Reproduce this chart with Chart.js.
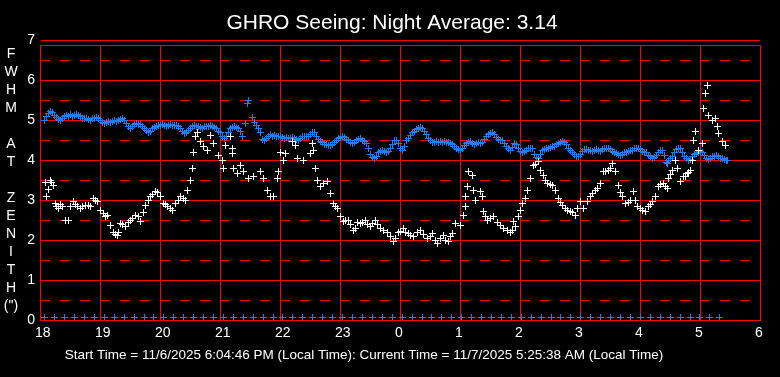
<!DOCTYPE html>
<html><head><meta charset="utf-8">
<script src="https://cdn.jsdelivr.net/npm/chart.js@4/dist/chart.umd.min.js"></script>
<style>html,body{margin:0;padding:0;background:#000;}#wrap{width:780px;height:377px;}canvas{display:block;}</style>
</head><body><div id="wrap"><canvas id="c" width="780" height="377"></canvas></div>
<script>
// x values are minutes elapsed since 18:00 local time
const titleText = 'GHRO Seeing: Night Average: 3.14';
const footerText = 'Start Time = 11/6/2025 6:04:46 PM (Local Time): Current Time = 11/7/2025 5:25:38 AM (Local Time)';
const yAxisLetters = ['F','W','H','M','','A','T','','Z','E','N','I','T','H','(")'];
const hourTicks = [0,60,120,180,240,300,360,420,480,540,600,660,720];
const hourLabels = ['18','19','20','21','22','23','0','1','2','3','4','5','6'];
const yTicks = [0,1,2,3,4,5,6,6.875,7];
const yHalfLines = [0.5,1.5,2.5,3.5,4.5,5.5,6.5];

const whiteMinutes = [5,6,8,10,13,15,18,22,25,28,33,37,40,45,50,53,57,60,63,67,70,73,77,80,85,90,95,100,105,108,115,120,123,127,132,135,140,145,147,150,152,153,155,157,160,163,167,170,173,178,182,183,185,190,192,192,193,197,200,203,208,213,220,223,227,230,233,237,238,240,243,245,252,255,257,263,270,272,273,275,277,280,283,287,290,293,297,300,303,308,313,320,325,330,335,340,347,353,358,363,368,373,380,387,392,397,403,408,412,415,420,423,425,425,427,428,432,433,435,440,442,443,447,453,460,467,472,473,478,482,487,490,493,498,500,503,507,512,515,518,522,525,530,535,540,543,547,552,555,560,563,568,572,575,578,582,585,590,593,597,600,605,608,612,615,618,623,627,628,632,635,637,640,643,647,650,652,653,655,658,662,663,665,667,668,672,675,677,678,682,685,
  11,16,20,30,35,42,48,55,65,75,78,82,88,92,98,103,110,112,117,125,130,138,143,
  295,305,310,315,317,322,327,332,337,343,350,355,360,365,370,377,383,390,395,400,405,410,445,450,457,463,470,475,480,485,495,505,510,520,527,532,537,550,557,565,570,580,588,595,602,610,620,625,630,645,648];
const whiteValues = [3.45,3.08,3.27,3.5,3.37,2.92,2.79,2.83,2.5,2.5,2.96,2.83,2.79,2.87,2.83,3.04,2.96,2.75,2.67,2.62,2.37,2.2,2.12,2.42,2.33,2.5,2.62,2.46,2.87,3.0,3.21,3.08,2.92,2.83,2.75,2.92,3.08,3.0,3.25,3.5,3.8,4.2,4.58,4.7,4.46,4.33,4.25,4.62,4.42,4.12,4.0,3.8,4.37,4.58,4.29,4.17,3.8,3.67,3.87,3.71,3.54,3.58,3.71,3.54,3.25,3.08,3.08,3.54,3.71,4.2,4.0,4.17,4.46,4.37,4.04,4.0,4.17,4.42,4.25,3.8,3.5,3.33,3.42,3.46,3.17,2.92,2.79,2.58,2.46,2.5,2.25,2.42,2.5,2.33,2.5,2.29,2.2,1.96,2.2,2.29,2.17,2.08,2.25,2.04,2.17,1.92,2.12,1.96,2.17,2.42,2.37,2.62,2.83,3.08,3.33,3.71,3.62,3.25,3.0,3.21,3.08,2.71,2.5,2.58,2.37,2.25,2.25,2.46,2.58,2.92,3.23,3.54,3.87,3.96,3.75,3.62,3.42,3.37,3.25,3.04,2.87,2.79,2.71,2.62,2.96,2.79,2.96,3.17,3.25,3.42,3.71,3.75,3.92,3.71,3.37,3.08,2.92,3.0,3.21,2.83,2.79,2.71,2.83,2.96,3.08,3.33,3.42,3.29,3.54,3.75,4.0,3.79,3.46,3.58,3.67,3.75,4.0,4.5,4.71,4.25,4.42,5.29,5.67,5.87,5.12,5.0,5.04,4.83,4.67,4.46,4.37,
  3.45,2.85,2.9,2.85,2.9,2.85,2.87,2.98,2.6,2.15,2.2,2.38,2.45,2.55,2.58,2.7,3.1,3.15,3.18,2.88,2.78,3.0,3.05,
  2.85,2.5,2.4,2.3,2.45,2.45,2.4,2.42,2.4,2.25,2.1,2.05,2.22,2.2,2.12,2.18,2.15,2.1,2.0,2.05,2.0,2.1,2.6,2.55,2.45,2.3,2.2,2.35,2.75,3.05,3.9,3.5,3.4,2.95,2.75,2.68,2.8,3.1,3.3,3.72,3.8,3.2,2.95,3.0,2.75,2.9,3.38,3.35,3.65,3.6,3.7];

const blueMinutes = [4,6,8,10,12,14,16,18,20,22,24,26,28,30,32,34,36,38,40,42,44,46,48,50,52,54,56,58,60,62,64,66,68,70,72,74,76,78,80,82,84,86,88,90,92,94,96,98,100,102,104,106,108,110,112,114,116,118,120,122,124,126,128,130,132,134,136,138,140,142,144,146,148,150,152,154,156,158,160,162,164,166,168,170,172,174,176,178,180,182,184,186,188,190,192,194,196,198,200,202,205,207,208,212,214,216,218,220,222,224,226,228,230,232,234,236,238,240,242,244,246,248,250,252,254,256,258,260,262,264,266,268,270,272,274,276,278,280,282,284,286,288,290,292,294,296,298,300,302,304,306,308,310,312,314,316,318,320,322,324,326,328,330,332,334,336,338,340,342,344,346,348,350,352,354,356,358,360,362,364,366,368,370,372,374,376,378,380,382,384,386,388,390,392,394,396,398,400,402,404,406,408,410,412,414,416,418,420,422,424,426,428,430,432,434,436,438,440,442,444,446,448,450,452,454,456,458,460,462,464,466,468,470,472,474,476,478,480,482,484,486,488,490,492,494,496,498,500,502,504,506,508,510,512,514,516,518,520,522,524,526,528,530,532,534,536,538,540,542,544,546,548,550,552,554,556,558,560,562,564,566,568,570,572,574,576,578,580,582,584,586,588,590,592,594,596,598,600,602,604,606,608,610,612,614,616,618,620,622,624,626,627,628,630,632,634,636,638,640,642,644,646,648,650,652,654,656,658,660,662,664,666,668,670,672,674,676,678,680,682,684,686,687];
const blueValues = [5.0,5.1,5.17,5.21,5.18,5.12,5.07,5.02,5.0,5.05,5.1,5.12,5.1,5.13,5.1,5.12,5.14,5.12,5.1,5.05,5.04,5.05,5.02,5.0,5.03,5.05,5.07,5.05,4.98,4.93,4.92,4.95,4.96,4.94,4.96,4.98,4.97,5.0,5.02,5.04,5.0,4.92,4.85,4.8,4.85,4.9,4.92,4.9,4.88,4.85,4.78,4.75,4.7,4.72,4.78,4.82,4.84,4.86,4.87,4.88,4.86,4.85,4.87,4.88,4.87,4.86,4.87,4.85,4.8,4.72,4.67,4.7,4.75,4.8,4.85,4.87,4.85,4.83,4.82,4.8,4.83,4.84,4.85,4.87,4.85,4.82,4.78,4.72,4.68,4.6,4.55,4.58,4.7,4.78,4.82,4.83,4.82,4.8,4.72,4.6,4.92,5.42,5.5,5.07,4.95,4.87,4.8,4.7,4.52,4.5,4.55,4.6,4.63,4.6,4.62,4.6,4.58,4.6,4.57,4.55,4.57,4.55,4.55,4.56,4.55,4.52,4.5,4.55,4.58,4.6,4.58,4.6,4.65,4.7,4.68,4.6,4.52,4.46,4.43,4.4,4.38,4.36,4.37,4.4,4.45,4.5,4.53,4.56,4.58,4.56,4.52,4.48,4.44,4.42,4.44,4.48,4.52,4.54,4.5,4.46,4.42,4.3,4.15,4.06,4.04,4.1,4.18,4.22,4.25,4.22,4.2,4.22,4.3,4.4,4.48,4.5,4.42,4.3,4.25,4.35,4.48,4.55,4.62,4.68,4.72,4.76,4.8,4.81,4.78,4.72,4.65,4.55,4.48,4.45,4.44,4.46,4.45,4.46,4.44,4.46,4.45,4.44,4.42,4.4,4.35,4.3,4.27,4.25,4.3,4.36,4.42,4.45,4.46,4.42,4.4,4.42,4.44,4.42,4.45,4.52,4.58,4.63,4.67,4.68,4.63,4.56,4.52,4.5,4.48,4.42,4.35,4.28,4.25,4.32,4.42,4.38,4.28,4.22,4.2,4.22,4.25,4.28,4.3,4.28,4.15,4.06,4.05,4.15,4.23,4.26,4.28,4.3,4.32,4.33,4.35,4.38,4.42,4.45,4.47,4.45,4.38,4.3,4.25,4.2,4.15,4.1,4.08,4.15,4.22,4.26,4.27,4.25,4.23,4.22,4.25,4.27,4.25,4.22,4.26,4.28,4.3,4.3,4.26,4.22,4.18,4.16,4.14,4.12,4.13,4.18,4.2,4.22,4.23,4.25,4.28,4.3,4.3,4.27,4.22,4.2,4.18,4.12,4.08,4.05,4.06,4.12,4.2,4.25,4.25,4.12,3.95,3.92,4.0,4.04,4.1,4.2,4.27,4.3,4.28,4.2,4.1,4.04,4.0,4.02,4.08,4.14,4.17,4.2,4.21,4.2,4.12,4.05,4.02,4.04,4.08,4.1,4.12,4.1,4.05,4.04,4.02,4.0,4.0];

const zeroMinutes = [4,14,24,34,44,54,64,74,84,94,104,113,123,133,143,153,163,173,183,193,203,213,223,233,242,252,262,272,282,292,302,312,322,332,342,352,362,372,382,391,401,411,421,431,441,451,461,471,481,491,501,511,520,530,540,550,560,570,580,590,600,610,620,630,640,650,659,669,679];
const zeroValue = 0.07;

const FONT = '"Liberation Sans", Arial, sans-serif';
const WHITE = '#ffffff';
const BLUE = '#1a80ff';
const RED = '#ff0000';

function pts(xs, ys) { return xs.map((x, i) => ({ x: x, y: ys[i] })); }

// crisp 7x7 '+' marker image
function crossImage(color) {
  const cv = document.createElement('canvas');
  cv.width = 7; cv.height = 7;
  const g = cv.getContext('2d');
  g.fillStyle = color;
  g.fillRect(0, 3, 7, 1);
  g.fillRect(3, 0, 1, 7);
  return cv;
}
const whiteCross = crossImage(WHITE);
const blueCross = crossImage(BLUE);

const decor = {
  id: 'decor',
  beforeDraw(chart) {
    const c = chart.ctx;
    c.save(); c.fillStyle = '#000'; c.fillRect(0, 0, chart.width, chart.height); c.restore();
  },
  beforeDatasetsDraw(chart) {
    const c = chart.ctx, a = chart.chartArea, ys = chart.scales.y;
    c.save();
    c.strokeStyle = RED;
    c.lineWidth = 1;
    c.setLineDash([10, 10]);
    yHalfLines.forEach(v => {
      const py = Math.round(ys.getPixelForValue(v)) + 0.5;
      c.beginPath();
      c.moveTo(a.left, py);
      c.lineTo(a.right, py);
      c.stroke();
    });
    c.restore();
    c.imageSmoothingEnabled = false;
  },
  afterDraw(chart) {
    const c = chart.ctx;
    c.save();
    c.fillStyle = WHITE;
    c.textAlign = 'center';
    c.textBaseline = 'alphabetic';
    c.font = '21px ' + FONT;
    c.fillText(titleText, 392, 29);
    c.font = '14px ' + FONT;
    yAxisLetters.forEach((t, i) => { if (t) c.fillText(t, 11, 58 + i * 18); });
    c.font = '13.5px ' + FONT;
    c.fillText(footerText, 364, 359);
    c.restore();
  }
};

new Chart(document.getElementById('c'), {
  type: 'scatter',
  data: {
    datasets: [
      { label: 'white', data: pts(whiteMinutes, whiteValues), pointStyle: whiteCross, pointRadius: 3.5, borderColor: WHITE, backgroundColor: WHITE },
      { label: 'blue', data: pts(blueMinutes, blueValues), pointStyle: blueCross, pointRadius: 3.5, borderColor: BLUE, backgroundColor: BLUE },
      { label: 'zero', data: pts(zeroMinutes, zeroMinutes.map(() => zeroValue)), pointStyle: blueCross, pointRadius: 3.5, borderColor: BLUE, backgroundColor: BLUE }
    ]
  },
  options: {
    responsive: false,
    animation: false,
    devicePixelRatio: 1,
    layout: { padding: { left: 0, right: 20, top: 45, bottom: 0 } },
    plugins: { legend: { display: false }, tooltip: { enabled: false }, title: { display: false } },
    events: [],
    scales: {
      x: {
        type: 'linear', min: 0, max: 720,
        afterBuildTicks: (s) => { s.ticks = hourTicks.map(v => ({ value: v })); },
        afterFit: (s) => { s.height = 57; },
        ticks: {
          color: WHITE, font: { family: FONT, size: 14 }, padding: 5,
          autoSkip: false, maxRotation: 0, minRotation: 0, align: 'start', labelOffset: -5,
          callback: (v, i) => hourLabels[i]
        },
        grid: { color: RED, lineWidth: 1, drawTicks: false },
        border: { color: RED, width: 1 }
      },
      y: {
        type: 'linear', min: 0, max: 6.875,
        afterBuildTicks: (s) => { s.ticks = yTicks.map(v => ({ value: v })); },
        afterFit: (s) => { s.width = 40; },
        ticks: {
          color: WHITE, font: { family: FONT, size: 14 }, padding: 5, autoSkip: false,
          callback: (v) => Number.isInteger(v) ? String(v) : ''
        },
        grid: { color: RED, lineWidth: 1, drawTicks: false },
        border: { color: RED, width: 1 }
      }
    }
  },
  plugins: [decor]
});
</script>
</body></html>
